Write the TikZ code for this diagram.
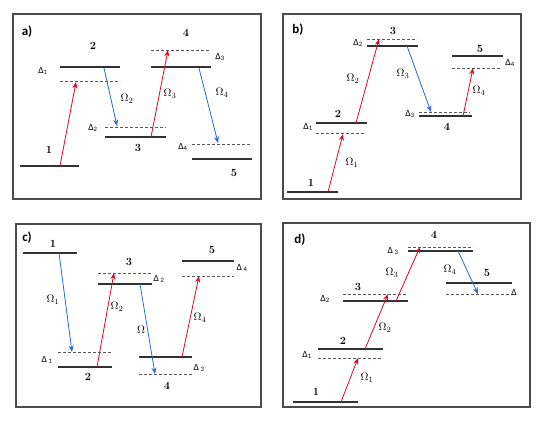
\documentclass[tikz,border=0pt]{standalone}
\usepackage{fontspec}
\usetikzlibrary{arrows.meta}
\newfontfamily\calib{Carlito}
\definecolor{rd}{RGB}{215,10,35}
\definecolor{bl}{RGB}{45,105,210}
\definecolor{fr}{RGB}{75,75,75}
\definecolor{lv}{RGB}{50,50,50}
\tikzset{
  frm/.style={draw=fr,line width=1.3pt},
  lvl/.style={draw=lv,line width=1.8pt},
  dsh/.style={draw=black!65,line width=0.8pt,dash pattern=on 3pt off 2pt},
  rarr/.style={draw=rd,line width=0.8pt,-{Stealth[length=6.5pt,width=5pt]}},
  barr/.style={draw=bl,line width=0.8pt,-{Stealth[length=6.5pt,width=5pt]}},
  num/.style={font=\fontsize{11}{11}\selectfont\bfseries,inner sep=0pt},
  om/.style={font=\fontsize{11}{11}\selectfont,inner sep=0pt},
  dl/.style={font=\calib\fontsize{9.5}{9.5}\selectfont,inner sep=0pt},
  pl/.style={font=\calib\bfseries\fontsize{13}{13}\selectfont,inner sep=0pt}
}
\begin{document}
\begin{tikzpicture}[x=1pt,y=-1pt]
\useasboundingbox[fill=white] (0,0) rectangle (545,422);
% ---------- a)
\draw[frm] (13,14) rectangle (261,199);
\node[pl] (al) at (27,32) {a)};
\draw[lvl] (20,166) -- (79,166);
\draw[lvl] (60,67) -- (120,67);
\draw[dsh] (60,81) -- (120,81);
\draw[dsh] (105,127) -- (166,127);
\draw[lvl] (105,137) -- (166,137);
\draw[dsh] (151,50) -- (210,50);
\draw[lvl] (151,67) -- (211,67);
\draw[dsh] (192,144) -- (252,144);
\draw[lvl] (192,159) -- (252,159);
\node[num] (a1) at (49,150) {1};
\node[num] (a2) at (93,46) {2};
\node[num] (a3) at (138,148) {3};
\node[num] (a4) at (186,33) {4};
\node[num] (a5) at (234,173) {5};
\node[dl] (ad1) at (43,71) {Δ\textsubscript{1}};
\node[dl] (ad2) at (93,128) {Δ\textsubscript{2}};
\node[dl] (ad3) at (220,57) {Δ\textsubscript{3}};
\node[dl] (ad4) at (183,147) {Δ\textsubscript{4}};
\node[om] (ao2) at (127,99) {$\Omega_2$};
\node[om] (ao3) at (170,94) {$\Omega_3$};
\node[om] (ao4) at (222,93) {$\Omega_4$};
\coordinate (aa1) at (60,166); \coordinate (ab1) at (76,82);
\coordinate (aa2) at (104,68); \coordinate (ab2) at (117,126);
\coordinate (aa3) at (151,137); \coordinate (ab3) at (168,50);
\coordinate (aa4) at (199,68); \coordinate (ab4) at (218,143);
\draw[rarr] (aa1) -- (ab1);
\draw[barr] (aa2) -- (ab2);
\draw[rarr] (aa3) -- (ab3);
\draw[barr] (aa4) -- (ab4);
% ---------- b)
\draw[frm] (283,14) rectangle (521,199);
\node[pl] (bl) at (298,30) {b)};
\draw[lvl] (287,192) -- (338,192);
\draw[lvl] (316,123) -- (367,123);
\draw[dsh] (316,133) -- (365,133);
\draw[dsh] (367,39) -- (417,39);
\draw[lvl] (367,46) -- (418,46);
\draw[dsh] (419,112) -- (470,112);
\draw[lvl] (419,116) -- (472,116);
\draw[lvl] (452,56) -- (503,56);
\draw[dsh] (452,68) -- (502,68);
\node[num] (b1) at (311,183) {1};
\node[num] (b2) at (338,114) {2};
\node[num] (b3) at (393,31) {3};
\node[num] (b4) at (447,127) {4};
\node[num] (b5) at (480,49) {5};
\node[dl] (bd1) at (308,127) {Δ\textsubscript{1}};
\node[dl] (bd2) at (358,43) {Δ\textsubscript{2}};
\node[dl] (bd3) at (410,114) {Δ\textsubscript{3}};
\node[dl] (bd4) at (510,63) {Δ\textsubscript{4}};
\node[om] (bo1) at (352,163) {$\Omega_1$};
\node[om] (bo2) at (353,79) {$\Omega_2$};
\node[om] (bo3) at (403,74) {$\Omega_3$};
\node[om] (bo4) at (479,91) {$\Omega_4$};
\coordinate (ba1) at (328,192); \coordinate (bb1) at (343,134);
\coordinate (ba2) at (356,123); \coordinate (bb2) at (379,39);
\coordinate (ba3) at (407,46); \coordinate (bb3) at (431,112);
\coordinate (ba4) at (463,116); \coordinate (bb4) at (473,68);
\draw[rarr] (ba1) -- (bb1);
\draw[rarr] (ba2) -- (bb2);
\draw[barr] (ba3) -- (bb3);
\draw[rarr] (ba4) -- (bb4);
% ---------- c)
\draw[frm] (16,224) rectangle (261,407);
\node[pl] (cl) at (27,238) {c)};
\draw[lvl] (23,253) -- (77,253);
\draw[dsh] (58,352) -- (112,352);
\draw[lvl] (58,367) -- (112,367);
\draw[dsh] (98,273) -- (152,273);
\draw[lvl] (98,284) -- (152,284);
\draw[lvl] (139,357) -- (192,357);
\draw[dsh] (139,374) -- (192,374);
\draw[lvl] (182,261) -- (234,261);
\draw[dsh] (182,276) -- (234,276);
\node[num] (c1) at (53,244) {1};
\node[num] (c2) at (88,377) {2};
\node[num] (c3) at (129,262) {3};
\node[num] (c4) at (167,386) {4};
\node[num] (c5) at (212,250) {5};
\node[dl] (cd1) at (47,360) {Δ\,\textsubscript{1}};
\node[dl] (cd2) at (159,279) {Δ\,\textsubscript{2}};
\node[dl] (cd3) at (199,368) {Δ\,\textsubscript{3}};
\node[dl] (cd4) at (242,268) {Δ\,\textsubscript{4}};
\node[om] (co1) at (53,300) {$\Omega_1$};
\node[om] (co2) at (117,307) {$\Omega_2$};
\node[om] (co3) at (141,330) {$\Omega$};
\node[om] (co4) at (200,318) {$\Omega_4$};
\coordinate (ca1) at (59,253); \coordinate (cb1) at (72,352);
\coordinate (ca2) at (97,367); \coordinate (cb2) at (114,273);
\coordinate (ca3) at (140,284); \coordinate (cb3) at (155,374);
\coordinate (ca4) at (182,357); \coordinate (cb4) at (199,276);
\draw[barr] (ca1) -- (cb1);
\draw[rarr] (ca2) -- (cb2);
\draw[barr] (ca3) -- (cb3);
\draw[rarr] (ca4) -- (cb4);
% ---------- d)
\draw[frm] (283,223) rectangle (530,407);
\node[pl] (dlab) at (300,240) {d)};
\draw[lvl] (293,402) -- (358,402);
\draw[lvl] (318,349) -- (383,349);
\draw[dsh] (318,358) -- (383,358);
\draw[dsh] (343,294) -- (408,294);
\draw[lvl] (343,301) -- (408,301);
\draw[dsh] (408,247) -- (473,247);
\draw[lvl] (408,251) -- (473,251);
\draw[lvl] (446,283) -- (512,283);
\draw[dsh] (446,294) -- (512,294);
\node[num] (d1) at (316,392) {1};
\node[num] (d2) at (343,341) {2};
\node[num] (d3) at (358,287) {3};
\node[num] (d4) at (434,235) {4};
\node[num] (d5) at (487,273) {5};
\node[dl] (dd1) at (307,355) {Δ\textsubscript{1}};
\node[dl] (dd2) at (325,299) {Δ\textsubscript{2}};
\node[dl] (dd3) at (393,251) {Δ\,\textsubscript{3}};
\node[dl] (dd4) at (514,292) {Δ};
\node[om] (do1) at (367,378) {$\Omega_1$};
\node[om] (do2) at (385,328) {$\Omega_2$};
\node[om] (do3) at (392,273) {$\Omega_3$};
\node[om] (do4) at (450,270) {$\Omega_4$};
\coordinate (da1) at (341,402); \coordinate (db1) at (358,358);
\coordinate (da2) at (365,349); \coordinate (db2) at (388,294);
\coordinate (da3) at (396,301); \coordinate (db3) at (420,247);
\coordinate (da4) at (458,251); \coordinate (db4) at (478,294);
\draw[rarr] (da1) -- (db1);
\draw[rarr] (da2) -- (db2);
\draw[rarr] (da3) -- (db3);
\draw[barr] (da4) -- (db4);
\end{tikzpicture}
\end{document}
